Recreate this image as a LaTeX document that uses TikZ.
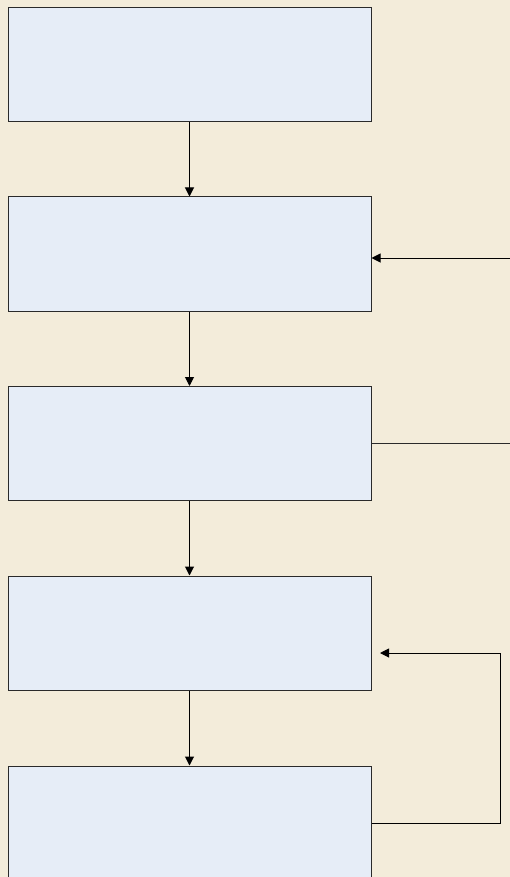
\documentclass[tikz,border=0pt]{standalone}
\usetikzlibrary{arrows.meta}
\definecolor{paper}{HTML}{F3ECDA}
\definecolor{boxfill}{HTML}{E6EDF7}
\definecolor{edge}{HTML}{2A2A2A}
\begin{document}
\begin{tikzpicture}[x=1pt,y=-1pt,
  stagebox/.style={draw=edge,line width=1pt,fill=boxfill,rectangle,
    minimum width=363pt,minimum height=114pt,inner sep=0pt},
  flow/.style={draw=black,line width=1pt,-{Triangle[length=9pt,width=9pt]}},
  plain/.style={draw=edge,line width=1pt}]
  % page and background
  \useasboundingbox (0,0) rectangle (510,877);
  \fill[paper] (0,0) rectangle (510,877);
  \begin{scope}
    \clip (0,0) rectangle (510,877);
    % five stacked stages
    \node[stagebox] (s1) at (189.5,65) {};
    \node[stagebox] (s2) at (189.5,254) {};
    \node[stagebox] (s3) at (189.5,443.5) {};
    \node[stagebox] (s4) at (189.5,633) {};
    \node[stagebox] (s5) at (189.5,823) {};
  \end{scope}
  % downward flow between stages
  \draw[flow] (s1.south) -- (s2.north);
  \draw[flow] (s2.south) -- (s3.north);
  \draw[flow] (s3.south) -- (s4.north);
  \draw[flow] (s4.south) -- (s5.north);
  % incoming line from the right into stage 2
  \coordinate (in2) at (510,258);
  \draw[flow] (in2) -- (in2 -| s2.east);
  % outgoing line from stage 3 to the right
  \coordinate (out3) at (510,443.5);
  \draw[plain] (s3.east) -- (out3);
  % feedback loop from stage 5 back to stage 4
  \coordinate (fbr) at (500,823);
  \coordinate (fbt) at (500,653);
  \coordinate (fbend) at (380,653);
  \draw[flow] (s5.east) -- (fbr) -- (fbt) -- (fbend);
\end{tikzpicture}
\end{document}
